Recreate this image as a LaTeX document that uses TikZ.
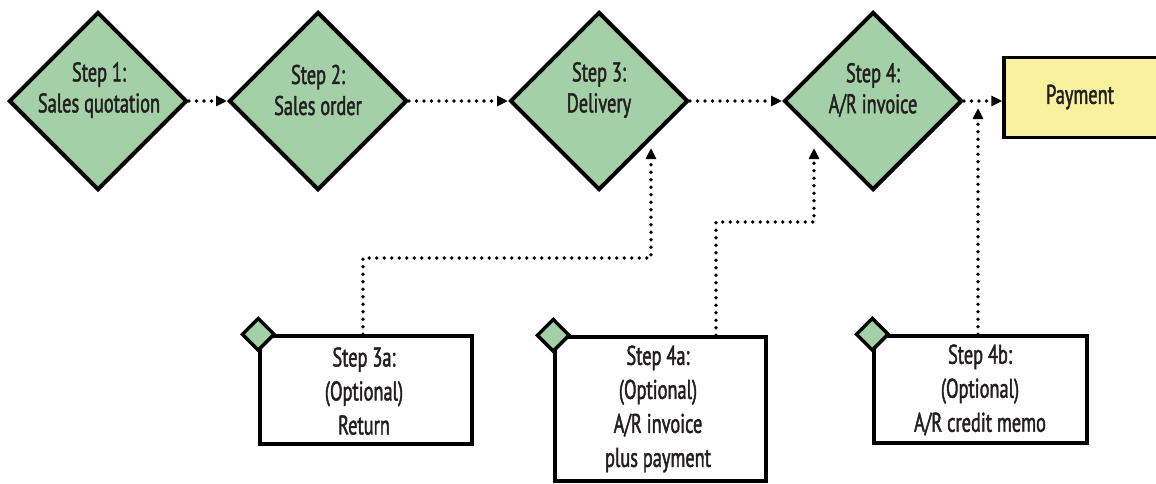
\documentclass[tikz,border=0pt]{standalone}
\usepackage{fontspec}
\setmainfont{PT Sans}[FakeStretch=0.68,FakeBold=1.6]
\usetikzlibrary{shapes.geometric,arrows.meta}
\definecolor{dgreen}{HTML}{A3D0A7}
\definecolor{pyellow}{HTML}{F8F29E}
\definecolor{ink}{HTML}{231F20}
\tikzset{
  dia/.style={diamond,draw=black,line width=4pt,fill=dgreen,minimum width=178pt,minimum height=178pt,inner sep=0pt},
  dtxt/.style={align=center,text=ink,font=\fontsize{27}{31}\selectfont,inner sep=0pt},
  btxt/.style={align=center,text=ink,font=\fontsize{27}{34}\selectfont,inner sep=0pt},
  optbox/.style={rectangle,draw=black,line width=3.5pt,fill=white},
  mini/.style={diamond,draw=black,line width=3.5pt,fill=dgreen,minimum width=33pt,minimum height=33pt,inner sep=0pt},
  pay/.style={rectangle,draw=black,line width=3.5pt,fill=pyellow,minimum width=156pt,minimum height=80pt},
  conn/.style={line width=3.6pt,line cap=round,dash pattern=on 0pt off 7.5pt,-{Triangle[length=11pt,width=10pt,line cap=butt]}},
}
\begin{document}
\begin{tikzpicture}[x=1pt,y=-1pt]
\clip (0,0) rectangle (1156,483);
\fill[white] (0,0) rectangle (1156,483);
% main diamonds
\node[dia] (d1) at (98,101) {};
\node[dia] (d2) at (318,101) {};
\node[dia] (d3) at (599,101) {};
\node[dia] (d4) at (873,101) {};
\node[dtxt] (t1) at (99,90) {Step 1:\\Sales quotation};
\node[dtxt] (t2) at (318,90) {Step 2:\\Sales order};
\node[dtxt] (t3) at (599,90) {Step 3:\\Delivery};
\node[dtxt] (t4) at (873,90) {Step 4:\\A/R invoice};
% payment
\node[pay] (p) at (1082,97.5) {};
\node[btxt] (pt) at (1080,97) {Payment};
% optional boxes
\node[optbox,minimum width=212pt,minimum height=108pt] (b3a) at (366,390) {};
\node[btxt] (t3a) at (364,391) {Step 3a:\\(Optional)\\Return};
\node[optbox,minimum width=211pt,minimum height=144pt] (b4a) at (660.5,409) {};
\node[btxt] (t4a) at (658,409) {Step 4a:\\(Optional)\\A/R invoice\\plus payment};
\node[optbox,minimum width=213pt,minimum height=107pt] (b4b) at (980.5,389.5) {};
\node[btxt] (t4b) at (980,390) {Step 4b:\\(Optional)\\A/R credit memo};
\node[mini] (m3a) at (b3a.north west) {};
\node[mini] (m4a) at (b4a.north west) {};
\node[mini] (m4b) at (b4b.north west) {};
% connectors
\coordinate (j3) at (651,258);
\coordinate (e3) at (651,148);
\coordinate (j4) at (814,222);
\coordinate (e4) at (814,148);
\coordinate (e4b) at (978,108);
\draw[conn] (d1.east) -- (d2.west);
\draw[conn] (d2.east) -- (d3.west);
\draw[conn] (d3.east) -- (d4.west);
\draw[conn] (d4.east) -- (d4.east -| p.west);
\draw[conn] ([xshift=-3pt]b3a.north) |- (j3) -- (e3);
\draw[conn] ([xshift=55.5pt]b4a.north) |- (j4) -- (e4);
\draw[conn] ([xshift=-2.5pt]b4b.north) -- (e4b);
\end{tikzpicture}
\end{document}
